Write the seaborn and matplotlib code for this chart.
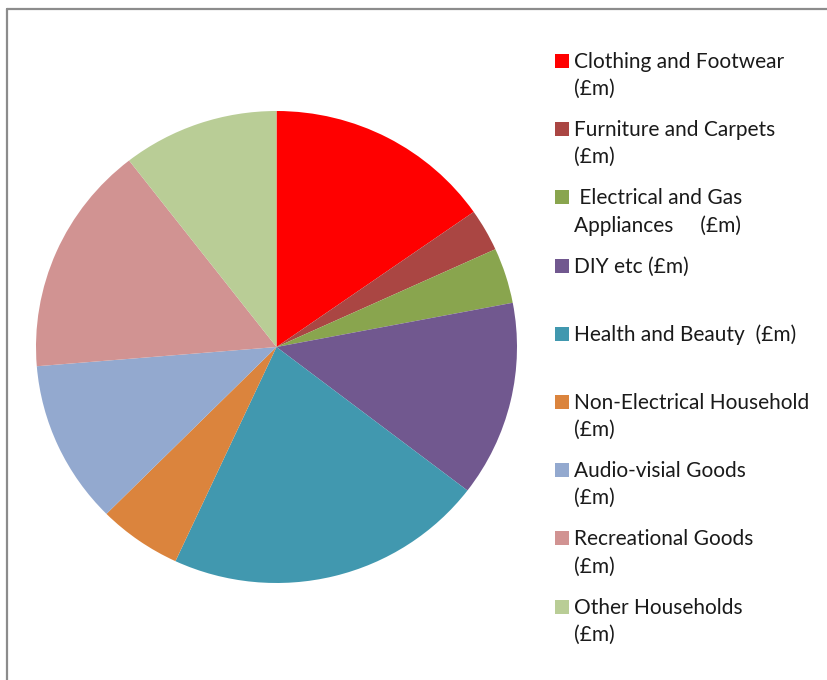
import matplotlib
matplotlib.use("Agg")
import matplotlib.pyplot as plt
import seaborn as sns
from matplotlib.patches import Rectangle
from matplotlib.lines import Line2D

# Spending categories (share of total)
categories = [
    "Clothing and Footwear\n(£m)",
    "Furniture and Carpets\n(£m)",
    " Electrical and Gas\nAppliances     (£m)",
    "DIY etc (£m)",
    "Health and Beauty  (£m)",
    "Non-Electrical Household\n(£m)",
    "Audio-visial Goods\n(£m)",
    "Recreational Goods\n(£m)",
    "Other Households\n(£m)",
]
values = [15.3, 2.9, 3.8, 13.4, 21.5, 5.6, 11.2, 15.8, 10.5]
colors = ["#FF0000", "#AA4643", "#89A54E", "#71588F", "#4198AF",
          "#DB843D", "#93A9CF", "#D19392", "#B9CD96"]

sns.set_theme(style="white")
plt.rcParams['font.family'] = ['Lato', 'DejaVu Sans']

W, H = 828, 680
fig = plt.figure(figsize=(W / 100, H / 100), dpi=100)

# pie centred at (276, 347) px, slightly wider than tall like the original
cx, cy, rx, ry = 276.5, 347, 240.5, 236
ax = fig.add_axes([(cx - rx) / W, 1 - (cy + ry) / H, 2 * rx / W, 2 * ry / H])
ax.pie(values, colors=sns.color_palette(colors), startangle=90,
       counterclock=False, radius=1.0, wedgeprops=dict(linewidth=0))
ax.set_xlim(-1, 1)
ax.set_ylim(-1, 1)
ax.set_aspect('auto')
ax.axis('off')

# legend drawn by hand so the swatch sits on the first text line
for i, (lab, col) in enumerate(zip(categories, colors)):
    y = 61 + 68.2 * i
    fig.add_artist(Rectangle((555 / W, 1 - (y + 7) / H), 14 / W, 14 / H,
                             transform=fig.transFigure, color=col, lw=0))
    fig.text(574 / W, 1 - (y - 9) / H, lab, ha='left', va='top',
             fontsize=15, color='#1a1a1a', linespacing=1.44)

# chart frame (top and left edges visible)
fig.add_artist(Line2D([7 / W, 1.01], [1 - 9 / H, 1 - 9 / H],
                      transform=fig.transFigure, color='#8c8c8c', lw=1.6))
fig.add_artist(Line2D([7 / W, 7 / W], [1 - 9 / H, -0.01],
                      transform=fig.transFigure, color='#8c8c8c', lw=1.6))

fig.savefig("out.png", dpi=100, facecolor='white')
